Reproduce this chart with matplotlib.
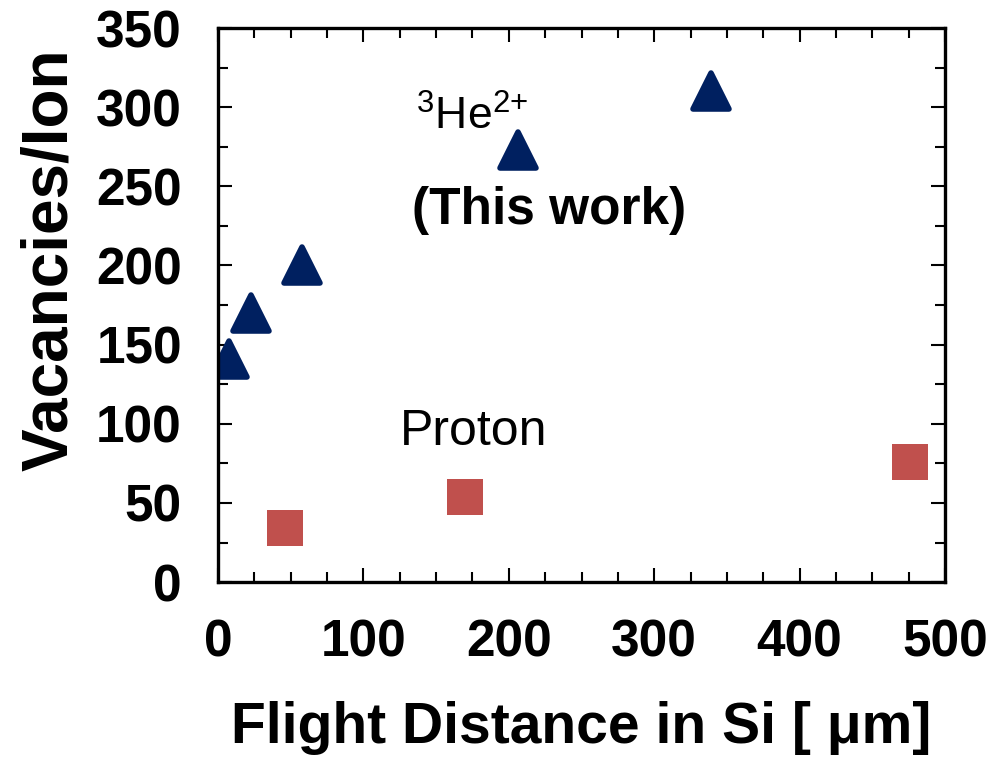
import matplotlib
matplotlib.use('Agg')
import matplotlib.pyplot as plt
from matplotlib.ticker import MultipleLocator
from matplotlib.markers import MarkerStyle

plt.rcParams['font.family'] = ['Liberation Sans', 'DejaVu Sans']
plt.rcParams['mathtext.fontset'] = 'custom'
plt.rcParams['mathtext.rm'] = 'Liberation Sans'
plt.rcParams['mathtext.it'] = 'Liberation Sans'

# data
he_x = [7.6, 23, 58, 206, 339]
he_y = [141, 170, 200, 273, 310]
p_x = [46, 170, 476]
p_y = [34, 54, 76]

fig = plt.figure(figsize=(10, 7.57), dpi=100)
ax = fig.add_axes([0.218, 0.231, 0.727, 0.732])

# helium points (navy triangles, rounded corners) and protons (red squares)
tri = MarkerStyle('^', joinstyle='round')
ax.plot(he_x, he_y, linestyle='none', marker=tri, markersize=26, color='#002060',
        markeredgewidth=4, markeredgecolor='#002060', markerfacecolor='#002060')
ax.plot(p_x, p_y, linestyle='none', marker='s', markersize=26, color='#C0504D',
        markeredgewidth=0)

ax.set_xlim(0, 500)
ax.set_ylim(0, 350)
ax.xaxis.set_major_locator(MultipleLocator(100))
ax.xaxis.set_minor_locator(MultipleLocator(25))
ax.yaxis.set_major_locator(MultipleLocator(50))
ax.yaxis.set_minor_locator(MultipleLocator(25))

ax.tick_params(which='both', direction='in', top=True, right=True, width=1.5)
ax.tick_params(which='major', length=10, labelsize=37, pad=26)
ax.tick_params(which='minor', length=7)
for lab in ax.get_xticklabels() + ax.get_yticklabels():
    lab.set_fontweight('bold')
for s in ax.spines.values():
    s.set_linewidth(2.4)

ax.set_xlabel('Flight Distance in Si [ μm]', fontsize=41, fontweight='bold', labelpad=24)
ax.set_ylabel('Vacancies/Ion', fontsize=46, fontweight='bold')
ax.yaxis.set_label_coords(-0.19, 0.581)

ax.text(175, 294, r'$^{3}$He$^{2{+}}$', fontsize=32, ha='center', va='center')
ax.text(228, 235, '(This work)', fontsize=37, fontweight='bold', ha='center', va='center')
ax.text(176, 95, 'Proton', fontsize=36, ha='center', va='center')

fig.savefig('out.png', dpi=100)
